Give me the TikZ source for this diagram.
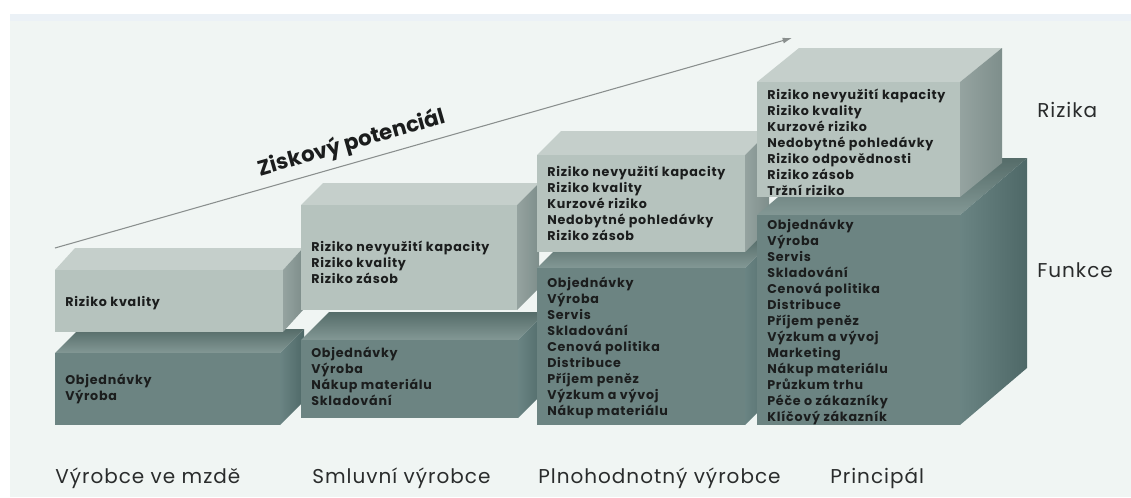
\documentclass[tikz,border=0pt]{standalone}
\usepackage{fontspec}
\setmainfont{Poppins}
\newfontfamily\boxfont[LetterSpace=6]{Poppins}
\newfontfamily\labelfont[LetterSpace=5]{Poppins}
\usetikzlibrary{arrows.meta}

\definecolor{panel}{HTML}{F0F5F3}
\definecolor{panelband}{HTML}{EBF1F6}
\definecolor{lightfront}{HTML}{B6C3BE}
\definecolor{lighttop}{HTML}{C5CFCB}
\definecolor{lightsideA}{HTML}{95A3A0}
\definecolor{lightsideB}{HTML}{7E8E8B}
\definecolor{darkfront}{HTML}{6C8482}
\definecolor{darktopA}{HTML}{556C69}
\definecolor{darktopB}{HTML}{839895}
\definecolor{darksideA}{HTML}{6A8483}
\definecolor{darksideB}{HTML}{4E6867}
\definecolor{ink}{HTML}{1B1D1D}
\definecolor{labelink}{HTML}{2A2C2C}
\definecolor{arrowgray}{HTML}{8A8F8E}

\tikzset{
  lighttopface/.style={fill=lighttop},
  lightsideface/.style={left color=lightsideA, right color=lightsideB},
  lightfrontface/.style={fill=lightfront},
  darktopface/.style={top color=darktopA, bottom color=darktopB},
  darksideface/.style={left color=darksideA, right color=darksideB},
  darkfrontface/.style={fill=darkfront},
  boxtext/.style={anchor=north west, inner sep=0pt, align=left, text=ink,
    font=\boxfont\bfseries\fontsize{9.5}{12}\selectfont},
  collabel/.style={anchor=base west, inner sep=0pt, text=labelink,
    font=\labelfont\fontsize{15}{18}\selectfont},
  gainarrow/.style={draw=arrowgray, line width=0.8pt,
    -{Latex[length=7pt,width=4.5pt]}},
}

% block: front rectangle (#1,#2)-(#3,#4), depth offset (#5 right, #6 up), kind #7
\newcommand\drawblock[7]{%
  \path[#7topface] (#1,#2) -- (#1+#5,#2-#6) -- (#3+#5,#2-#6) -- (#3,#2) -- cycle;
  \path[#7sideface] (#3,#2) -- (#3+#5,#2-#6) -- (#3+#5,#4-#6) -- (#3,#4) -- cycle;
  \path[#7frontface] (#1,#2) rectangle (#3,#4);
}
\newcommand\strt{\rule{0pt}{9pt}}

\begin{document}
\begin{tikzpicture}[x=0.75pt, y=-0.75pt]
\useasboundingbox (0,0) rectangle (1131,497);
\fill[white] (0,0) rectangle (1131,497);
\fill[panel] (10,14) rectangle (1131,497);
\fill[panelband] (10,14) rectangle (1131,21);

% profit arrow
\coordinate (gainstart) at (55,248);
\coordinate (gainend) at (792,38);
\draw[gainarrow] (gainstart) -- node[sloped, above=5pt, pos=0.41, inner sep=0pt, text=ink,
  font=\bfseries\fontsize{16}{18}\selectfont] (gaintitle) {Ziskový potenciál} (gainend);

% column 1
\drawblock{55}{353}{280}{425}{24}{24}{dark}
\drawblock{55}{270}{283}{332}{20}{22}{light}
% column 2
\drawblock{301}{340}{518}{418}{28}{28}{dark}
\drawblock{301}{205}{517}{310}{22}{22}{light}
% column 3
\drawblock{537}{268}{745}{425}{30}{30}{dark}
\drawblock{537}{155}{745}{252}{24}{24}{light}
% column 4
\drawblock{757}{215}{960}{425}{67}{57}{dark}
\drawblock{757}{82}{960}{197}{42}{34}{light}

% risks and functions
\node[boxtext] (r1) at (65,294) {\strt Riziko kvality};
\node[boxtext] (f1) at (65,372) {\strt Objednávky\\Výroba};
\node[boxtext] (r2) at (311,239) {\strt Riziko nevyužití kapacity\\Riziko kvality\\Riziko zásob};
\node[boxtext] (f2) at (311,345) {\strt Objednávky\\Výroba\\Nákup materiálu\\Skladování};
\node[boxtext] (r3) at (547,164) {\strt Riziko nevyužití kapacity\\Riziko kvality\\Kurzové riziko\\Nedobytné pohledávky\\Riziko zásob};
\node[boxtext] (f3) at (547,275) {\strt Objednávky\\Výroba\\Servis\\Skladování\\Cenová politika\\Distribuce\\Příjem peněz\\Výzkum a vývoj\\Nákup materiálu};
\node[boxtext] (r4) at (767,87) {\strt Riziko nevyužití kapacity\\Riziko kvality\\Kurzové riziko\\Nedobytné pohledávky\\Riziko odpovědnosti\\Riziko zásob\\Tržní riziko};
\node[boxtext] (f4) at (767,217) {\strt Objednávky\\Výroba\\Servis\\Skladování\\Cenová politika\\Distribuce\\Příjem peněz\\Výzkum a vývoj\\Marketing\\Nákup materiálu\\Průzkum trhu\\Péče o zákazníky\\Klíčový zákazník};

% column and row labels
\node[collabel] (c1) at (55,483) {Výrobce ve mzdě};
\node[collabel] (c2) at (312,483) {Smluvní výrobce};
\node[collabel] (c3) at (538,483) {Plnohodnotný výrobce};
\node[collabel] (c4) at (830,483) {Principál};
\node[collabel] (rowr) at (1037,117) {Rizika};
\node[collabel] (rowf) at (1037,277) {Funkce};
\end{tikzpicture}
\end{document}
